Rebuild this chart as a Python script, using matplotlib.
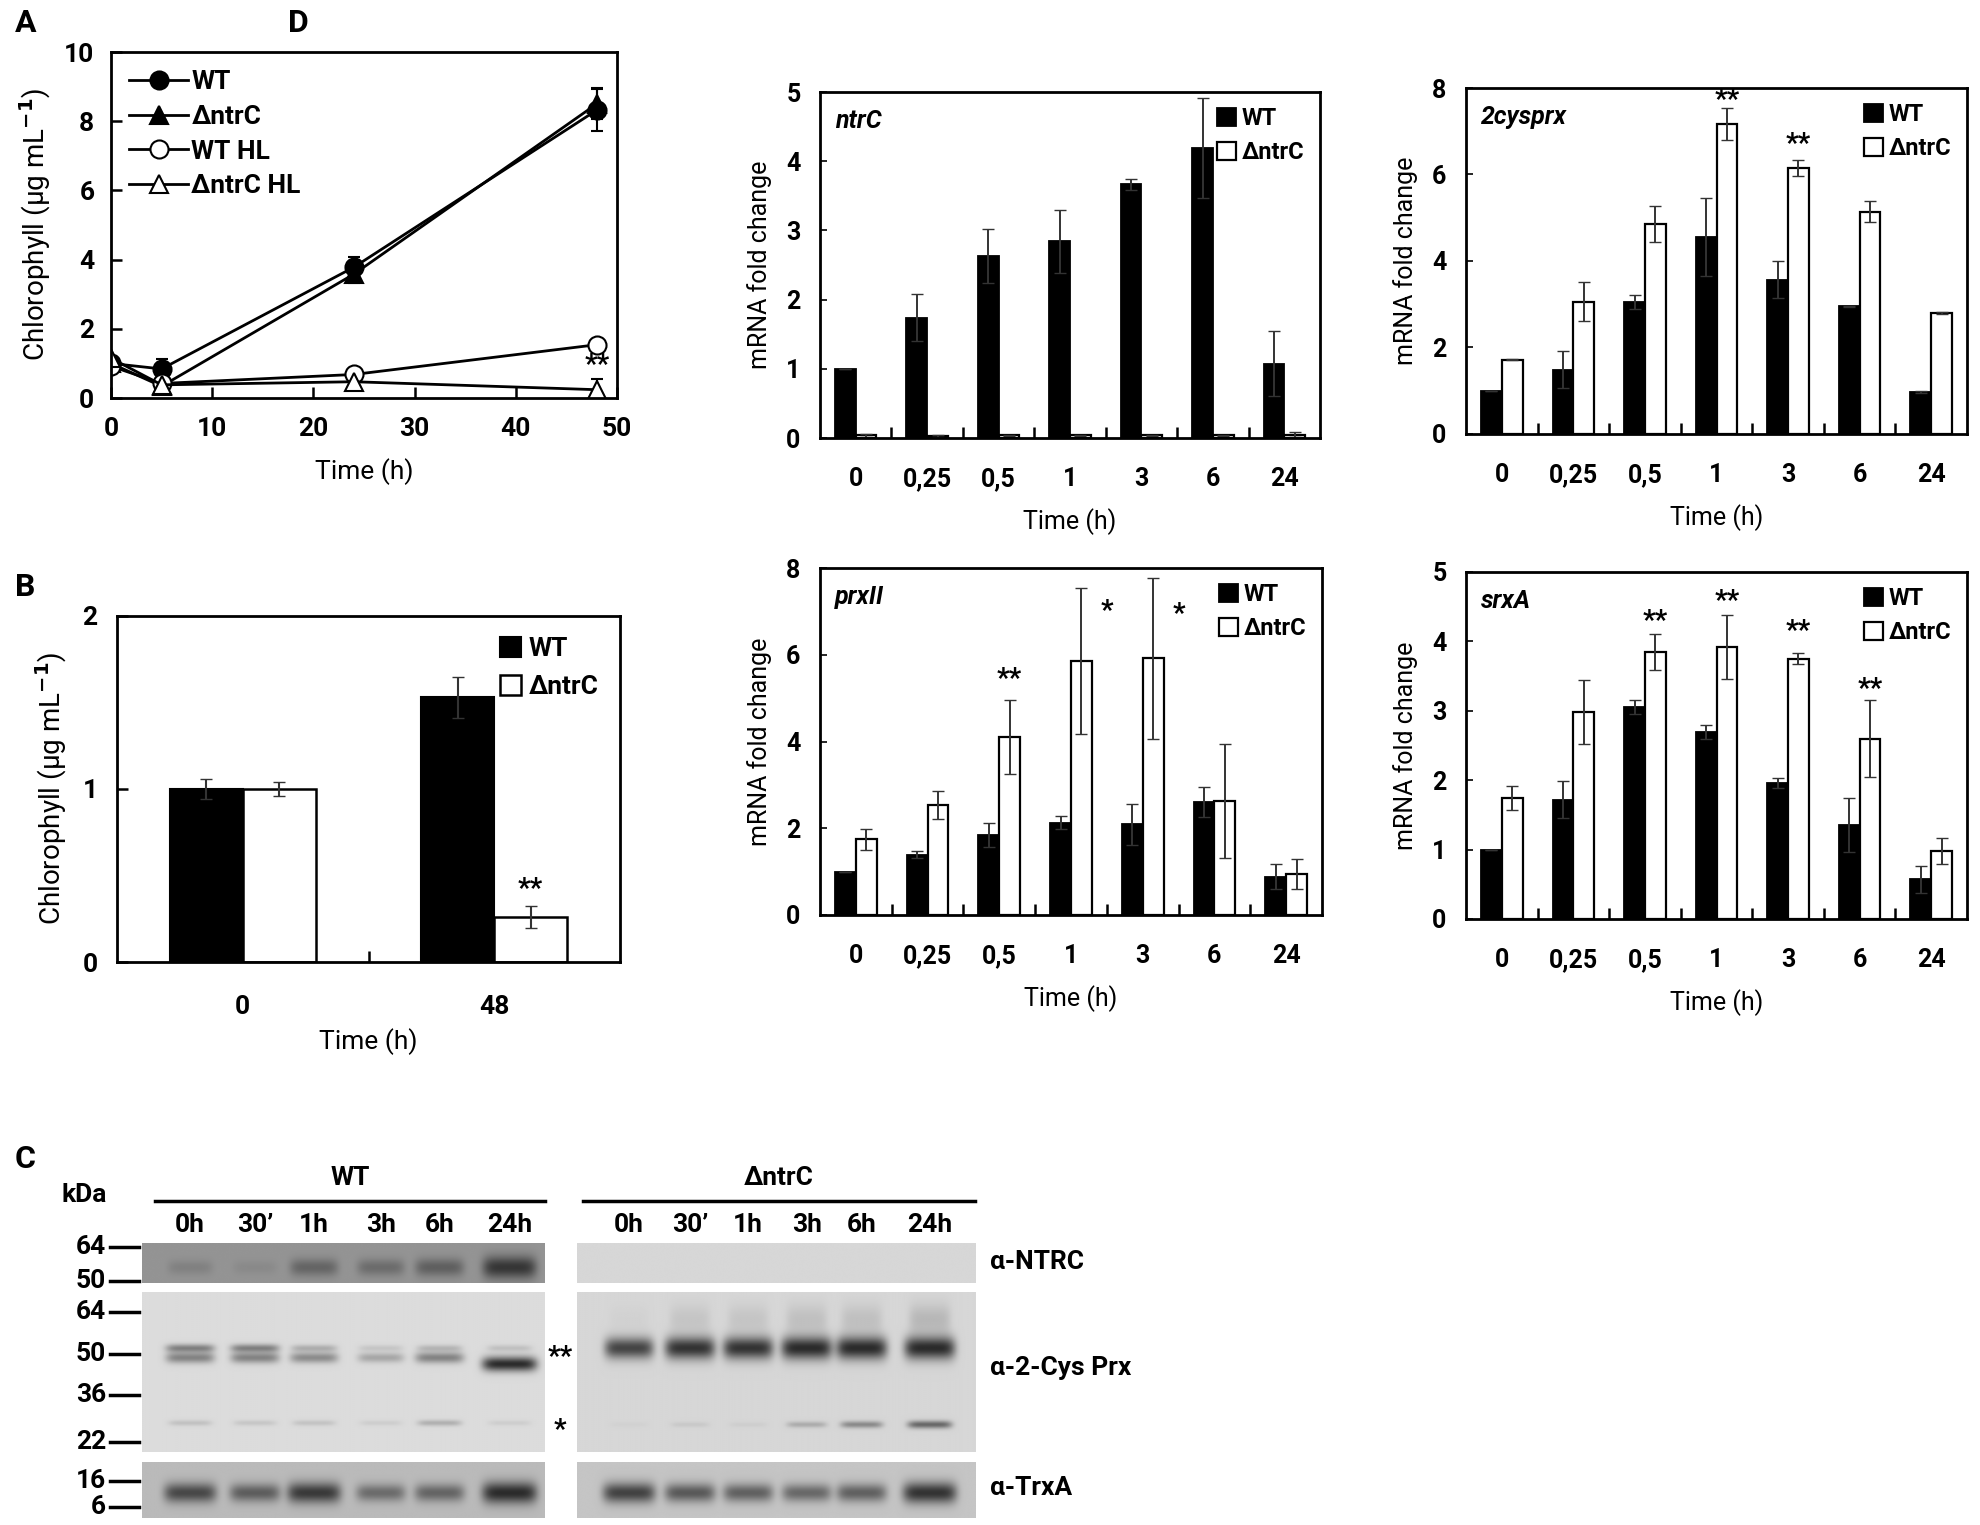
import numpy as np
import matplotlib.pyplot as plt
from matplotlib.lines import Line2D

plt.rcParams['font.family'] = ['Roboto', 'DejaVu Sans']
plt.rcParams['font.weight'] = 'bold'
plt.rcParams['axes.linewidth'] = 2.0
plt.rcParams['mathtext.default'] = 'bf'

# ---- data ----
# A: chlorophyll time course
time_h = [0, 5, 24, 48]
chl_wt = [1.0, 0.84, 3.78, 8.32]
chl_wt_err = [0.05, 0.30, 0.30, 0.60]
chl_ntrc = [1.0, 0.34, 3.58, 8.50]
chl_ntrc_err = [0.05, 0.08, 0.25, 0.45]
chl_wt_hl = [0.92, 0.42, 0.68, 1.54]
chl_wt_hl_err = [0.05, 0.05, 0.08, 0.05]
chl_ntrc_hl = [1.15, 0.38, 0.47, 0.24]
chl_ntrc_hl_err = [0.05, 0.05, 0.06, 0.30]

# B: chlorophyll at 0 and 48 h
b_times = ['0', '48']
b_wt = [1.0, 1.53]
b_wt_err = [0.06, 0.12]
b_ntrc = [1.0, 0.26]
b_ntrc_err = [0.04, 0.065]

# D: qPCR fold changes
d_times = ['0', '0,25', '0,5', '1', '3', '6', '24']
ntrc_wt = [1.0, 1.74, 2.63, 2.84, 3.67, 4.19, 1.07]
ntrc_wt_err = [0.0, 0.34, 0.39, 0.45, 0.08, 0.72, 0.47]
ntrc_ko = [0.04, 0.03, 0.04, 0.04, 0.04, 0.04, 0.05]
ntrc_ko_err = [0.02, 0.01, 0.01, 0.01, 0.01, 0.01, 0.04]

cys_wt = [1.0, 1.49, 3.06, 4.56, 3.57, 2.95, 0.97]
cys_wt_err = [0.0, 0.42, 0.16, 0.90, 0.42, 0.02, 0.02]
cys_ko = [1.72, 3.06, 4.86, 7.16, 6.15, 5.14, 2.80]
cys_ko_err = [0.02, 0.45, 0.41, 0.37, 0.18, 0.24, 0.03]

prx_wt = [1.0, 1.39, 1.85, 2.13, 2.09, 2.61, 0.88]
prx_wt_err = [0.0, 0.08, 0.28, 0.15, 0.47, 0.35, 0.29]
prx_ko = [1.75, 2.54, 4.10, 5.85, 5.92, 2.63, 0.95]
prx_ko_err = [0.24, 0.33, 0.85, 1.68, 1.86, 1.32, 0.35]

srx_wt = [1.0, 1.72, 3.06, 2.70, 1.96, 1.36, 0.57]
srx_wt_err = [0.0, 0.27, 0.10, 0.10, 0.07, 0.39, 0.19]
srx_ko = [1.74, 2.98, 3.85, 3.92, 3.75, 2.60, 0.98]
srx_ko_err = [0.17, 0.46, 0.26, 0.46, 0.08, 0.55, 0.19]

# significance marks: (category index, x offset, y value, text)
cys_stars = [(3, 0.145, 7.72, '**'), (4, 0.145, 6.69, '**')]
prx_stars = [(2, 0.145, 5.42, '**'), (3, 0.5, 7.0, '*'), (4, 0.5, 6.92, '*')]
srx_stars = [(2, 0.145, 4.28, '**'), (3, 0.145, 4.57, '**'),
             (4, 0.145, 4.14, '**'), (5, 0.145, 3.31, '**')]

# C: western blot band strengths (0 = none, 1 = saturated)
lanes = ['0h', '30\u2019', '1h', '3h', '6h', '24h']
ntrc_band_wt = [0.18, 0.10, 0.45, 0.38, 0.50, 0.90]
ntrc_band_ko = [0, 0, 0, 0, 0, 0]
prx_upper_wt = [0.50, 0.50, 0.25, 0.12, 0.20, 0.15]
prx_lower_wt = [0.50, 0.50, 0.45, 0.30, 0.50, 1.00]
prx_band_ko = [0.85, 0.95, 0.95, 1.00, 1.00, 1.00]
prx_smear_ko = [0.03, 0.10, 0.10, 0.13, 0.13, 0.18]
prx_low_wt = [0.15, 0.12, 0.14, 0.08, 0.25, 0.08]
prx_low_ko = [0.03, 0.08, 0.05, 0.25, 0.45, 0.65]
trxa_band_wt = [0.80, 0.65, 0.90, 0.55, 0.60, 1.00]
trxa_band_ko = [0.85, 0.70, 0.65, 0.60, 0.65, 0.95]
kda_labels = ['64', '50', '64', '50', '36', '22', '16', '6']

# ---- figure ----
W, H = 1980, 1525
fig = plt.figure(figsize=(W / 100, H / 100), dpi=100)


def box(x0, y0, x1, y1):
    return [x0 / W, 1 - y1 / H, (x1 - x0) / W, (y1 - y0) / H]


def ftext(x, y, s, **kw):
    fig.text(x / W, 1 - y / H, s, **kw)


# panel A
ax = fig.add_axes(box(111, 52, 617, 398))
series = [(chl_wt, chl_wt_err, 'o', 'black', 'WT'),
          (chl_ntrc, chl_ntrc_err, '^', 'black', '\u0394ntrC'),
          (chl_wt_hl, chl_wt_hl_err, 'o', 'white', 'WT HL'),
          (chl_ntrc_hl, chl_ntrc_hl_err, '^', 'white', '\u0394ntrC HL')]
for vals, err, mk, fc, lab in series:
    ax.errorbar(time_h, vals, yerr=err, color='black', lw=2, marker=mk, ms=13,
                mfc=fc, mec='black', mew=1.5, capsize=4, elinewidth=1.5, label=lab)
ax.text(48, 0.95, '**', ha='center', va='center', fontsize=20)
ax.set_xlim(0, 50)
ax.set_ylim(0, 10)
ax.set_xticks([0, 10, 20, 30, 40, 50])
ax.set_yticks([0, 2, 4, 6, 8, 10])
ax.tick_params(direction='in', length=8, width=1.8, labelsize=19)
ax.tick_params(axis='x', pad=14)
ax.tick_params(axis='y', pad=12)
ax.set_xlabel('Time (h)', fontsize=19, labelpad=12)
ax.set_ylabel('Chlorophyll (\u00b5g mL$^{-1}$)', fontsize=20, labelpad=8)
handles = [Line2D([], [], color='black', lw=2, marker=m, ms=13, mfc=fc, mec='black', mew=1.5)
           for _, _, m, fc, _ in series]
ax.legend(handles, [s[4] for s in series], loc='upper left', frameon=False, fontsize=19,
          handlelength=2.2, handletextpad=0.15, labelspacing=0.4, borderaxespad=0.3)

# panel B
ax = fig.add_axes(box(117, 616, 620, 962))
xb = np.arange(len(b_times))
bw = 0.29
ax.bar(xb - bw / 2, b_wt, bw, color='black', edgecolor='black', lw=1.5, label='WT')
ax.bar(xb + bw / 2, b_ntrc, bw, color='white', edgecolor='black', lw=1.8, label='\u0394ntrC')
ax.errorbar(xb - bw / 2, b_wt, yerr=b_wt_err, fmt='none', ecolor='#333333', capsize=4, elinewidth=1.5)
ax.errorbar(xb + bw / 2, b_ntrc, yerr=b_ntrc_err, fmt='none', ecolor='#333333', capsize=4, elinewidth=1.5)
ax.text(1 + bw / 2, 0.42, '**', ha='center', va='center', fontsize=20)
ax.set_xlim(-0.5, 1.5)
ax.set_ylim(0, 2)
ax.set_yticks([0, 1, 2])
ax.set_xticks(xb)
ax.set_xticklabels(b_times)
ax.set_xticks([0.5], minor=True)
ax.tick_params(axis='x', which='major', length=0, labelsize=19, pad=24)
ax.tick_params(axis='x', which='minor', direction='in', length=8, width=1.8)
ax.tick_params(axis='y', direction='in', length=8, width=1.8, labelsize=19, pad=14)
ax.set_xlabel('Time (h)', fontsize=19, labelpad=6)
ax.set_ylabel('Chlorophyll (\u00b5g mL$^{-1}$)', fontsize=20, labelpad=10)
ax.legend(loc='upper right', frameon=False, fontsize=19, handlelength=0.8, handleheight=0.8,
          handletextpad=0.3, labelspacing=0.5, borderaxespad=0.4)

# panel D
d_panels = [
    ((820, 92, 1320, 438), 'ntrC', ntrc_wt, ntrc_wt_err, ntrc_ko, ntrc_ko_err, 5, []),
    ((1466, 88, 1967, 434), '2cysprx', cys_wt, cys_wt_err, cys_ko, cys_ko_err, 8, cys_stars),
    ((820, 568, 1322, 915), 'prxII', prx_wt, prx_wt_err, prx_ko, prx_ko_err, 8, prx_stars),
    ((1466, 572, 1967, 919), 'srxA', srx_wt, srx_wt_err, srx_ko, srx_ko_err, 5, srx_stars),
]
xd = np.arange(len(d_times))
for rect, gene, wt, wte, ko, koe, ymax, stars in d_panels:
    ax = fig.add_axes(box(*rect))
    ax.bar(xd - bw / 2, wt, bw, color='black', edgecolor='black', lw=1.3, label='WT')
    ax.bar(xd + bw / 2, ko, bw, color='white', edgecolor='black', lw=1.6, label='\u0394ntrC')
    ax.errorbar(xd - bw / 2, wt, yerr=wte, fmt='none', ecolor='#333333', capsize=4, elinewidth=1.4)
    ax.errorbar(xd + bw / 2, ko, yerr=koe, fmt='none', ecolor='#333333', capsize=4, elinewidth=1.4)
    for i, dx, yv, s in stars:
        ax.text(i + dx, yv, s, ha='center', va='center', fontsize=20)
    ax.text(0.03, 0.915, gene, transform=ax.transAxes, style='italic', fontsize=18,
            ha='left', va='center')
    ax.set_xlim(-0.5, len(d_times) - 0.5)
    ax.set_ylim(0, ymax)
    ax.set_yticks(range(0, ymax + 1) if ymax == 5 else range(0, ymax + 1, 2))
    ax.set_xticks(xd)
    ax.set_xticklabels(d_times)
    ax.set_xticks(xd[:-1] + 0.5, minor=True)
    ax.tick_params(axis='x', which='major', length=0, labelsize=18, pad=21)
    ax.tick_params(axis='x', which='minor', direction='in', length=8, width=1.8)
    ax.tick_params(axis='y', direction='in', length=5, width=1.2, labelsize=18, pad=14)
    ax.set_xlabel('Time (h)', fontsize=18, labelpad=12)
    ax.set_ylabel('mRNA fold change', fontsize=18, labelpad=10)
    ax.legend(loc='upper right', frameon=False, fontsize=17, handlelength=0.8, handleheight=0.8,
              handletextpad=0.25, labelspacing=0.45, borderaxespad=0.25)

# panel C: blots
wt_lane_x = [0.119, 0.280, 0.427, 0.593, 0.739, 0.913]
ko_lane_x = [0.130, 0.283, 0.429, 0.576, 0.714, 0.885]


def blot(rect, bg, lane_x, bands):
    bax = fig.add_axes(box(*rect))
    xs = np.linspace(0, 1, 500)
    ys = np.linspace(0, 1, 240)
    X, Y = np.meshgrid(xs, ys)
    dark = np.zeros_like(X)
    for yc, strengths, hw, hh in bands:
        ycs = yc if isinstance(yc, list) else [yc] * len(lane_x)
        for xc, yy, s in zip(lane_x, ycs, strengths):
            w = hw * (0.85 + 0.25 * s)
            dark += s * np.exp(-((X - xc) / w) ** 6) * np.exp(-((Y - yy) / (hh * (0.7 + 0.6 * s))) ** 2)
    img = bg - (bg - 0.17) * np.clip(dark, 0, 1)
    bax.imshow(img, cmap='gray', vmin=0, vmax=1, extent=(0, 1, 1, 0), aspect='auto',
               interpolation='bilinear')
    bax.set_xlim(0, 1)
    bax.set_ylim(1, 0)
    bax.axis('off')
    return bax


blot((142, 1243, 545, 1283), 0.58, wt_lane_x, [(0.62, ntrc_band_wt, 0.062, 0.22)])
blot((577, 1243, 976, 1283), 0.84, ko_lane_x, [(0.62, ntrc_band_ko, 0.062, 0.22)])
blot((142, 1292, 545, 1452), 0.86, wt_lane_x,
     [(0.35, prx_upper_wt, 0.062, 0.025),
      ([0.41, 0.41, 0.41, 0.41, 0.41, 0.45], prx_lower_wt, 0.062, 0.035),
      (0.82, prx_low_wt, 0.06, 0.022)])
blot((577, 1292, 976, 1452), 0.84, ko_lane_x,
     [(0.35, prx_band_ko, 0.058, 0.055), (0.17, prx_smear_ko, 0.058, 0.12),
      (0.83, prx_low_ko, 0.055, 0.022)])
blot((142, 1462, 545, 1518), 0.73, wt_lane_x, [(0.55, trxa_band_wt, 0.062, 0.15)])
blot((577, 1462, 976, 1518), 0.77, ko_lane_x, [(0.55, trxa_band_ko, 0.062, 0.15)])

ftext(84, 1195, 'kDa', ha='center', va='center', fontsize=19)
kda_y = [1247, 1281, 1312, 1354, 1395, 1442, 1481, 1507]
for lab, yy in zip(kda_labels, kda_y):
    ftext(106, yy, lab, ha='right', va='center', fontsize=19)
    fig.add_artist(Line2D([110 / W, 139 / W], [1 - yy / H, 1 - yy / H], color='black', lw=2.5))

for name, x0, x1, lx in [('WT', 155, 545, wt_lane_x), ('\u0394ntrC', 583, 975, ko_lane_x)]:
    ftext((x0 + x1) / 2, 1178, name, ha='center', va='center', fontsize=19)
    fig.add_artist(Line2D([x0 / W, x1 / W], [1 - 1201 / H] * 2, color='black', lw=2.5))
    s0 = 142 if name == 'WT' else 577
    s1 = 545 if name == 'WT' else 976
    for lane, fx in zip(lanes, lx):
        ftext(s0 + fx * (s1 - s0), 1225, lane, ha='center', va='center', fontsize=19)

ftext(560, 1357, '**', ha='center', va='center', fontsize=20)
ftext(560, 1430, '*', ha='center', va='center', fontsize=20)
ftext(990, 1262, '\u03b1-NTRC', ha='left', va='center', fontsize=19)
ftext(990, 1368, '\u03b1-2-Cys Prx', ha='left', va='center', fontsize=19)
ftext(990, 1488, '\u03b1-TrxA', ha='left', va='center', fontsize=19)

# panel letters
for letter, x, y in [('A', 15, 23), ('B', 15, 587), ('C', 15, 1159), ('D', 288, 23)]:
    ftext(x, y, letter, ha='left', va='center', fontsize=23)

fig.savefig('out.png', dpi=100)
